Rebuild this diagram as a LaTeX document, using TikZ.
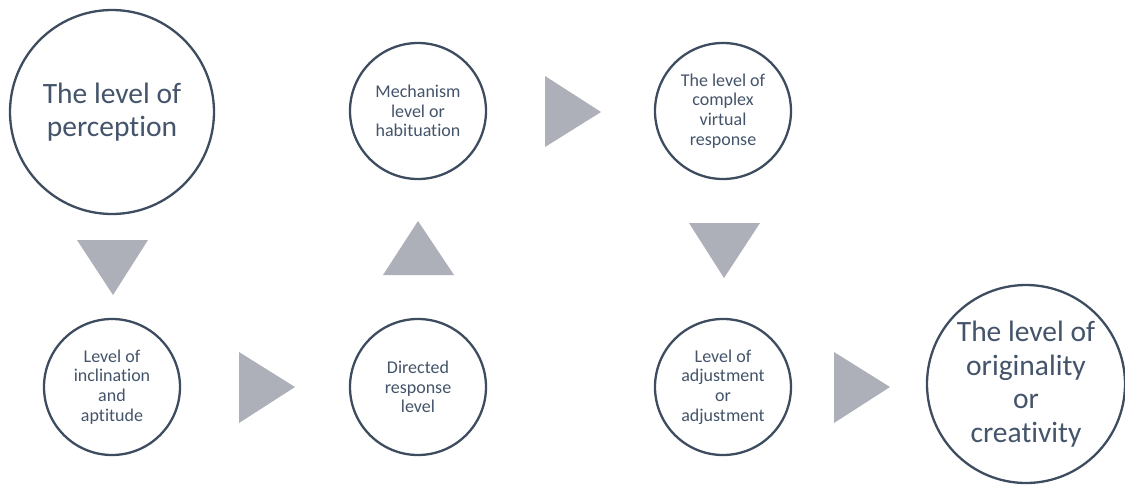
\documentclass[tikz,border=0pt]{standalone}
\usepackage{fontspec}
\setmainfont{Carlito}[Ligatures=NoCommon]
\definecolor{ring}{HTML}{3E4C5F}
\definecolor{txt}{HTML}{44546A}
\definecolor{tri}{HTML}{ADB0B8}
\tikzset{
  lvl/.style={circle, draw=ring, line width=2.3pt, fill=white, inner sep=0pt, align=center, text=txt},
  small/.style={lvl, minimum size=136pt, font=\fontsize{18}{19.8}\selectfont},
  big/.style={lvl, font=\fontsize{29.5}{33.5}\selectfont},
  arr/.style={fill=tri, draw=none}
}
\begin{document}
\begin{tikzpicture}[x=1pt,y=-1pt]
\useasboundingbox (0,0) rectangle (1125,485);
\node[big, minimum size=204pt] (c1) at (112,112) {The level of\\perception};
\node[small] (c2) at (112,387) {Level of\\inclination\\and\\aptitude};
\node[small] (c3) at (418,387) {Directed\\response\\level};
\node[small] (c4) at (418,111) {Mechanism\\level or\\habituation};
\node[small] (c5) at (723,111) {The level of\\complex\\virtual\\response};
\node[small] (c6) at (723,387) {Level of\\adjustment\\or\\adjustment};
\node[big, minimum size=198pt] (c7) at (1026,384) {The level of\\originality\\or\\creativity};
% triangles
\fill[arr] (77,240) -- (148,240) -- (113,295) -- cycle;
\fill[arr] (239,352) -- (239,423) -- (295,387) -- cycle;
\fill[arr] (383,275) -- (454,275) -- (418,221) -- cycle;
\fill[arr] (545,76) -- (545,147) -- (601,112) -- cycle;
\fill[arr] (689,223) -- (760,223) -- (724,278) -- cycle;
\fill[arr] (834,352) -- (834,423) -- (890,387) -- cycle;
\end{tikzpicture}
\end{document}
